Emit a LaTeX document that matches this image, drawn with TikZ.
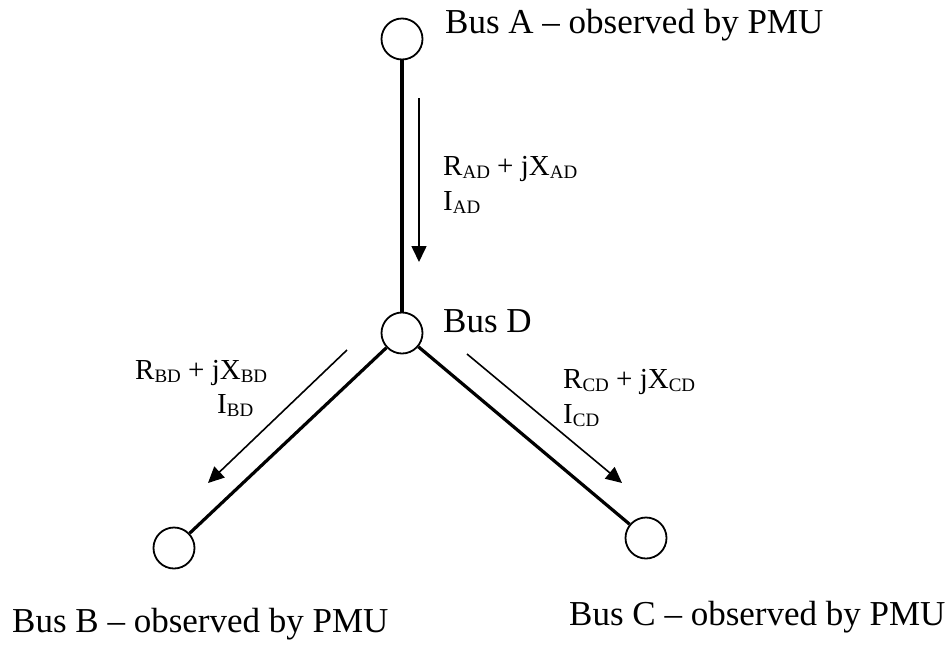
\documentclass[tikz,border=0pt]{standalone}
\usepackage{fontspec}
\setmainfont{Liberation Serif}
\usetikzlibrary{arrows.meta}
\newcommand{\sbs}[1]{\raisebox{-3pt}{\fontsize{19}{19}\selectfont #1}}
\tikzset{
  bus/.style={circle, draw, line width=1.8pt, minimum size=41pt, inner sep=0pt, fill=white},
  feeder/.style={line width=3.2pt},
  flow/.style={line width=1.6pt, -{Triangle[length=16pt,width=15pt]}},
  lbl/.style={anchor=base west, inner sep=0pt, font=\fontsize{35}{40}\selectfont},
  zlbl/.style={anchor=base west, inner sep=0pt, font=\fontsize{29}{34}\selectfont}
}
\begin{document}
\begin{tikzpicture}[x=1pt,y=-1pt]
\useasboundingbox (0,0) rectangle (945,646);
\coordinate (a1) at (419,98);  \coordinate (a2) at (419,262);
\coordinate (b1) at (347,350); \coordinate (b2) at (208,483);
\coordinate (c1) at (467,354); \coordinate (c2) at (622,483);
\node[bus] (A) at (402,39) {};
\node[bus] (D) at (402,333) {};
\node[bus] (B) at (174,548) {};
\node[bus] (C) at (646,538) {};
\draw[feeder] (A) -- (D);
\draw[feeder] (D) -- (B);
\draw[feeder] (D) -- (C);
\draw[flow] (a1) -- (a2);
\draw[flow] (b1) -- (b2);
\draw[flow] (c1) -- (c2);
\node[lbl] (tA) at (445,33) {Bus A – observed by PMU};
\node[lbl] (tD) at (443,332) {Bus D};
\node[lbl] (tB) at (12,632) {Bus B – observed by PMU};
\node[lbl] (tC) at (569,625) {Bus C – observed by PMU};
\node[zlbl] (zA) at (443,175) {R\sbs{AD} + jX\sbs{AD}};
\node[zlbl] (iA) at (443,210) {I\sbs{AD}};
\node[zlbl] (zB) at (135,379) {R\sbs{BD} + jX\sbs{BD}};
\node[zlbl] (iB) at (217,413) {I\sbs{BD}};
\node[zlbl] (zC) at (563,388) {R\sbs{CD} + jX\sbs{CD}};
\node[zlbl] (iC) at (563,423) {I\sbs{CD}};
\end{tikzpicture}
\end{document}
